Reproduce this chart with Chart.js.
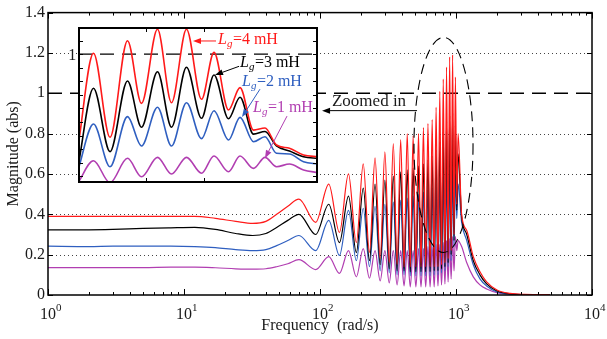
<!DOCTYPE html>
<html>
<head>
<meta charset="utf-8">
<script src="https://cdn.jsdelivr.net/npm/chart.js@4.4.1/dist/chart.umd.min.js"></script>
<style>
  html, body { margin: 0; padding: 0; background: #fff; }
  #wrap { position: relative; width: 607px; height: 339px; }
  #main { position: absolute; left: 0; top: 0; }
  #inset { position: absolute; left: 78px; top: 27px; background: #fff; }
</style>
</head>
<body>
<div id="wrap">
  <canvas id="main" width="607" height="339"></canvas>
  <canvas id="inset" width="240" height="156"></canvas>
</div>
<script>
// frequency points (rad/s): flat part, peaks/troughs, roll-off
const freq = [1, 2, 3, 5, 8, 12, 17, 24, 32, 40, 48, 58,
  70, 93, 116, 139, 162, 185, 208, 231, 254, 277, 300, 323, 346, 369, 392, 415, 438, 461,
  484, 507, 530, 553, 576, 599, 622, 645, 668, 691, 714, 737, 760, 783, 806, 829, 852, 875,
  898, 921, 944, 967, 990, 1013, 1036,
  1100, 1200, 1340, 1500, 1680, 2000, 2500, 3200, 4000, 4900];

// Lg = 4 mH
const magL4 = [0.39, 0.39, 0.39, 0.39, 0.39, 0.39, 0.38, 0.365, 0.355, 0.365, 0.40, 0.44,
  0.475, 0.36, 0.55, 0.31, 0.60, 0.26, 0.65, 0.21, 0.68, 0.18, 0.71, 0.16, 0.75, 0.15, 0.77, 0.14, 0.80, 0.14,
  0.79, 0.14, 0.80, 0.14, 0.83, 0.14, 0.85, 0.14, 0.87, 0.14, 0.93, 0.14, 1.01, 0.15, 1.07, 0.16, 1.13, 0.18,
  1.18, 0.22, 1.19, 0.30, 1.08, 0.45, 0.80,
  0.40, 0.32, 0.19, 0.115, 0.065, 0.025, 0.008, 0.003, 0.002, 0.001];
// Lg = 3 mH
const magL3 = [0.323, 0.323, 0.325, 0.33, 0.333, 0.335, 0.325, 0.305, 0.295, 0.305, 0.335, 0.37,
  0.40, 0.30, 0.45, 0.26, 0.49, 0.21, 0.53, 0.17, 0.55, 0.15, 0.57, 0.13, 0.59, 0.12, 0.61, 0.12, 0.62, 0.115,
  0.63, 0.115, 0.64, 0.115, 0.65, 0.115, 0.67, 0.115, 0.69, 0.12, 0.72, 0.12, 0.76, 0.13, 0.81, 0.14, 0.86, 0.16,
  0.89, 0.20, 0.90, 0.27, 0.84, 0.42, 0.70,
  0.39, 0.30, 0.17, 0.10, 0.055, 0.02, 0.006, 0.002, 0.001, 0.001];
// Lg = 2 mH
const magL2 = [0.242, 0.24, 0.242, 0.242, 0.242, 0.24, 0.235, 0.225, 0.22, 0.225, 0.245, 0.27,
  0.295, 0.22, 0.37, 0.196, 0.42, 0.17, 0.43, 0.14, 0.44, 0.12, 0.45, 0.11, 0.46, 0.10, 0.47, 0.10, 0.48, 0.095,
  0.49, 0.095, 0.50, 0.095, 0.51, 0.095, 0.52, 0.095, 0.53, 0.10, 0.55, 0.10, 0.57, 0.11, 0.59, 0.12, 0.61, 0.14,
  0.62, 0.17, 0.62, 0.24, 0.60, 0.38, 0.55,
  0.36, 0.27, 0.15, 0.08, 0.045, 0.015, 0.005, 0.002, 0.001, 0.001];
// Lg = 1 mH
const magL1 = [0.136, 0.136, 0.136, 0.136, 0.138, 0.138, 0.135, 0.13, 0.128, 0.13, 0.14, 0.155,
  0.175, 0.126, 0.19, 0.107, 0.22, 0.09, 0.23, 0.083, 0.22, 0.07, 0.22, 0.06, 0.22, 0.05, 0.22, 0.045, 0.22, 0.04,
  0.22, 0.04, 0.23, 0.04, 0.23, 0.04, 0.24, 0.04, 0.24, 0.04, 0.25, 0.045, 0.25, 0.05, 0.26, 0.055, 0.27, 0.065,
  0.28, 0.08, 0.29, 0.12, 0.29, 0.22, 0.27,
  0.24, 0.16, 0.09, 0.05, 0.03, 0.012, 0.004, 0.002, 0.001, 0.001];

// inset ("zoomed in") curves
const insetFreq = [600, 631, 664, 699, 727, 759, 787, 817, 847, 872, 901, 924, 951, 974, 997, 1023, 1051, 1080];
const insetL4 = [0.318, 1.006, 0.387, 1.099, 0.637, 1.183, 0.642, 1.183, 0.667, 1.013, 0.588, 0.753, 0.44, 0.455, 0.330, 0.306, 0.256, 0.244];
const insetL3 = [0.170, 0.748, 0.281, 0.802, 0.461, 0.870, 0.461, 0.903, 0.527, 0.846, 0.524, 0.682, 0.41, 0.43, 0.323, 0.286, 0.244, 0.232];
const insetL2 = [0.146, 0.485, 0.170, 0.539, 0.323, 0.608, 0.323, 0.642, 0.377, 0.583, 0.367, 0.534, 0.354, 0.391, 0.269, 0.264, 0.207, 0.190];
const insetL1 = [0.052, 0.214, 0.052, 0.232, 0.096, 0.239, 0.116, 0.239, 0.122, 0.249, 0.133, 0.249, 0.158, 0.239, 0.170, 0.190, 0.146, 0.126];

const seriesNames = ['4', '3', '2', '1'];
const yTicks = [0, 0.2, 0.4, 0.6, 0.8, 1, 1.2, 1.4];
const gridLevels = [0.2, 0.4, 0.6, 0.8, 1.2];
const refLevel = 1;
const decades = [0, 1, 2, 3, 4];
const insetYTicks = [0.1, 0.2, 0.3, 0.4, 0.5, 0.6, 0.7, 0.8, 0.9, 1.0, 1.1];
const insetXTicks = [736, 852];

const SERIF = '"Liberation Serif", "Times New Roman", serif';
const COLORS = ['#ff1a1a', '#000000', '#2f5fc0', '#b13eb1'];
const TEXT = '#1a1a1a';

// annotations, in data units of the chart they belong to
const zoomEllipse = { fLeft: 491, fRight: 1334, magTop: 1.277, magBottom: 0.211 };
const zoomNote = { text: 'Zoomed in', f: 122.5, mag: 0.958, arrowFrom: 517, arrowTo: 103.5, arrowMag: 0.914 };
const insetOneLabel = { f: 1.61, mag: 1.184 };
const insetLabels = [
  { f: 880, v: 1.104, from: [876, 1.097], to: [830, 1.097] },
  { f: 924, v: 0.935, from: [922, 0.91], to: [874, 0.846] },
  { f: 928, v: 0.795, from: [964, 0.742], to: [928, 0.536] },
  { f: 950, v: 0.603, from: [1018, 0.543], to: [974, 0.233] }
];

function drawArrow(ctx, x1, y1, x2, y2, color) {
  const ang = Math.atan2(y2 - y1, x2 - x1);
  const len = 8, half = 3;
  const c = Math.cos(ang), s = Math.sin(ang);
  ctx.strokeStyle = color;
  ctx.fillStyle = color;
  ctx.lineWidth = 1;
  ctx.setLineDash([]);
  ctx.beginPath();
  ctx.moveTo(x1, y1);
  ctx.lineTo(x2 - c * len, y2 - s * len);
  ctx.stroke();
  ctx.beginPath();
  ctx.moveTo(x2, y2);
  ctx.lineTo(x2 - c * len - s * half, y2 - s * len + c * half);
  ctx.lineTo(x2 - c * len + s * half, y2 - s * len - c * half);
  ctx.closePath();
  ctx.fill();
}

const mainDecor = {
  id: 'mainDecor',
  beforeDatasetsDraw(chart) {
    const { ctx, chartArea: a, scales: { x, y } } = chart;
    ctx.save();
    ctx.lineWidth = 1;
    ctx.strokeStyle = '#444';
    ctx.setLineDash([1, 3]);
    gridLevels.forEach(v => {
      const py = Math.round(y.getPixelForValue(v)) + 0.5;
      ctx.beginPath(); ctx.moveTo(a.left, py); ctx.lineTo(a.right, py); ctx.stroke();
    });
    // reference line at 1
    ctx.setLineDash([14, 8]);
    ctx.lineWidth = 1.4;
    ctx.strokeStyle = '#000';
    const p1 = y.getPixelForValue(refLevel);
    ctx.beginPath(); ctx.moveTo(a.left, p1); ctx.lineTo(a.right, p1); ctx.stroke();
    ctx.restore();
  },
  afterDatasetsDraw(chart) {
    const { ctx, chartArea: a, scales: { x, y } } = chart;
    ctx.save();
    ctx.setLineDash([]);
    ctx.strokeStyle = '#000';
    ctx.lineWidth = 1.5;
    ctx.strokeRect(a.left, a.top, a.right - a.left, a.bottom - a.top);

    // inward ticks
    ctx.lineWidth = 1;
    yTicks.forEach(v => {
      const py = Math.round(y.getPixelForValue(v)) + 0.5;
      ctx.beginPath();
      ctx.moveTo(a.left, py); ctx.lineTo(a.left + 5, py);
      ctx.moveTo(a.right, py); ctx.lineTo(a.right - 5, py);
      ctx.stroke();
    });
    decades.forEach(d => {
      for (let m = 1; m <= 9; m++) {
        if (d === 4 && m > 1) break;
        const px = Math.round(x.getPixelForValue(m * Math.pow(10, d))) + 0.5;
        const len = m === 1 ? 6 : 3;
        ctx.beginPath();
        ctx.moveTo(px, a.bottom); ctx.lineTo(px, a.bottom - len);
        ctx.moveTo(px, a.top); ctx.lineTo(px, a.top + len);
        ctx.stroke();
      }
    });

    // x tick labels as 10^n
    ctx.fillStyle = TEXT;
    ctx.textBaseline = 'alphabetic';
    decades.forEach(d => {
      const px = x.getPixelForValue(Math.pow(10, d));
      ctx.font = '16px ' + SERIF;
      ctx.textAlign = 'center';
      ctx.fillText('10', px, a.bottom + 24);
      const w = ctx.measureText('10').width;
      ctx.font = '11px ' + SERIF;
      ctx.textAlign = 'left';
      ctx.fillText(String(d), px + w / 2, a.bottom + 16);
    });

    // dashed ellipse around the resonance peaks
    const l = x.getPixelForValue(zoomEllipse.fLeft), r = x.getPixelForValue(zoomEllipse.fRight);
    const t = y.getPixelForValue(zoomEllipse.magTop), b = y.getPixelForValue(zoomEllipse.magBottom);
    ctx.setLineDash([10, 6]);
    ctx.lineWidth = 1.1;
    ctx.strokeStyle = '#000';
    ctx.beginPath();
    ctx.ellipse((l + r) / 2, (t + b) / 2, (r - l) / 2, (b - t) / 2, 0, 0, Math.PI * 2);
    ctx.stroke();

    // "Zoomed in" note
    ctx.setLineDash([]);
    ctx.fillStyle = TEXT;
    ctx.font = '17px ' + SERIF;
    ctx.textAlign = 'left';
    ctx.textBaseline = 'middle';
    ctx.fillText(zoomNote.text, x.getPixelForValue(zoomNote.f), y.getPixelForValue(zoomNote.mag));
    const ay = y.getPixelForValue(zoomNote.arrowMag);
    drawArrow(ctx, x.getPixelForValue(zoomNote.arrowFrom), ay, x.getPixelForValue(zoomNote.arrowTo), ay, '#000');

    // inset axis label "1"
    ctx.fillStyle = TEXT;
    ctx.font = '16px ' + SERIF;
    ctx.textAlign = 'right';
    ctx.fillText('1', x.getPixelForValue(insetOneLabel.f), y.getPixelForValue(insetOneLabel.mag));
    ctx.restore();
  }
};

const insetDecor = {
  id: 'insetDecor',
  beforeDatasetsDraw(chart) {
    const { ctx, chartArea: a, scales: { y } } = chart;
    ctx.save();
    ctx.setLineDash([14, 8]);
    ctx.lineWidth = 1.4;
    ctx.strokeStyle = '#000';
    const p1 = y.getPixelForValue(refLevel);
    ctx.beginPath(); ctx.moveTo(a.left, p1); ctx.lineTo(a.right, p1); ctx.stroke();
    ctx.restore();
  },
  afterDatasetsDraw(chart) {
    const { ctx, chartArea: a, scales: { x, y } } = chart;
    ctx.save();
    ctx.setLineDash([]);
    ctx.strokeStyle = '#000';
    ctx.lineWidth = 1;
    insetYTicks.forEach(v => {
      const py = Math.round(y.getPixelForValue(v)) + 0.5;
      ctx.beginPath();
      ctx.moveTo(a.left, py); ctx.lineTo(a.left + 5, py);
      ctx.moveTo(a.right, py); ctx.lineTo(a.right - 5, py);
      ctx.stroke();
    });
    insetXTicks.forEach(v => {
      const px = Math.round(x.getPixelForValue(v)) + 0.5;
      ctx.beginPath();
      ctx.moveTo(px, a.bottom); ctx.lineTo(px, a.bottom - 5);
      ctx.moveTo(px, a.top); ctx.lineTo(px, a.top + 5);
      ctx.stroke();
    });
    ctx.lineWidth = 2;
    ctx.strokeRect(a.left + 1, a.top + 1, a.right - a.left - 2, a.bottom - a.top - 2);

    insetLabels.forEach((lab, i) => {
      const color = COLORS[i];
      drawArrow(ctx, x.getPixelForValue(lab.from[0]), y.getPixelForValue(lab.from[1]),
        x.getPixelForValue(lab.to[0]), y.getPixelForValue(lab.to[1]), color);
      let px = x.getPixelForValue(lab.f);
      const py = y.getPixelForValue(lab.v);
      ctx.fillStyle = color;
      ctx.textAlign = 'left';
      ctx.textBaseline = 'middle';
      ctx.font = 'italic 16px ' + SERIF;
      ctx.fillText('L', px, py);
      px += ctx.measureText('L').width;
      ctx.font = 'italic 11px ' + SERIF;
      ctx.fillText('g', px, py + 4);
      px += ctx.measureText('g').width + 0.5;
      ctx.font = '16px ' + SERIF;
      ctx.fillText('=' + seriesNames[i] + ' mH', px, py);
    });
    ctx.restore();
  }
};

function lineSet(xs, ys, i, width) {
  return {
    label: 'Lg=' + seriesNames[i] + ' mH',
    data: xs.map((f, k) => ({ x: f, y: ys[k] })),
    borderColor: COLORS[i],
    borderWidth: width,
    pointRadius: 0,
    fill: false,
    cubicInterpolationMode: 'monotone'
  };
}

new Chart(document.getElementById('main'), {
  type: 'line',
  data: {
    datasets: [magL4, magL3, magL2, magL1].map((m, i) => lineSet(freq, m, i, 1.2))
  },
  options: {
    responsive: false,
    animation: false,
    devicePixelRatio: 1,
    layout: { padding: { top: 10, right: 15, left: 0, bottom: 0 } },
    plugins: { legend: { display: false }, tooltip: { enabled: false } },
    scales: {
      x: {
        type: 'logarithmic',
        min: 1,
        max: 10000,
        grid: { display: false, drawTicks: false },
        border: { display: false },
        ticks: { display: false },
        title: { display: true, text: 'Frequency  (rad/s)', color: TEXT, font: { family: SERIF, size: 16 } },
        afterFit: s => { s.height = 44; }
      },
      y: {
        min: 0,
        max: 1.4,
        grid: { display: false, drawTicks: false },
        border: { display: false },
        ticks: {
          stepSize: 0.2,
          padding: 3,
          color: TEXT,
          font: { family: SERIF, size: 16 },
          callback: v => String(Number(v.toFixed(1)))
        },
        title: { display: true, text: 'Magnitude (abs)', color: TEXT, font: { family: SERIF, size: 16 } },
        afterFit: s => { s.width = 48; }
      }
    }
  },
  plugins: [mainDecor]
});

new Chart(document.getElementById('inset'), {
  type: 'line',
  data: {
    datasets: [insetL4, insetL3, insetL2, insetL1].map((m, i) => lineSet(insetFreq, m, i, 1.6))
  },
  options: {
    responsive: false,
    animation: false,
    devicePixelRatio: 1,
    layout: { padding: 0 },
    plugins: { legend: { display: false }, tooltip: { enabled: false } },
    scales: {
      x: { type: 'linear', min: 600, max: 1080, display: false },
      y: { min: 0.05, max: 1.2, display: false }
    }
  },
  plugins: [insetDecor]
});
</script>
</body>
</html>
